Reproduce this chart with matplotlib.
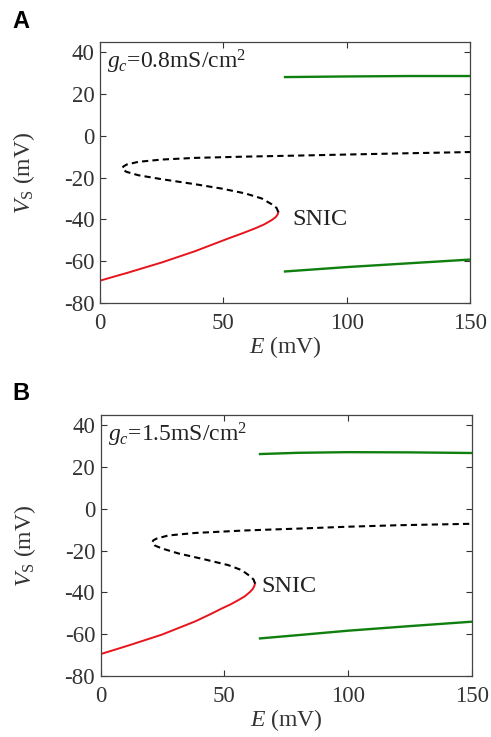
import numpy as np
import matplotlib
matplotlib.use("Agg")
import matplotlib.pyplot as plt

plt.rcParams['font.family'] = ['Liberation Serif', 'DejaVu Serif']
plt.rcParams['mathtext.fontset'] = 'custom'
plt.rcParams['mathtext.rm'] = 'Liberation Serif'
plt.rcParams['mathtext.it'] = 'Liberation Serif:italic'
plt.rcParams['axes.unicode_minus'] = False

# panel A, gc = 0.8
a_stable_E = [0, 11.5, 25.0, 38.5, 52.0, 58.0, 62.8, 66.5, 69.6, 71.3, 72.0, 72.3]
a_stable_V = [-69.3, -65.4, -60.6, -55.2, -49.1, -46.5, -44.3, -42.4, -40.3, -38.8, -37.6, -36.5]
a_unstable_E = [72.3, 71.6, 69.6, 65.5, 58.8, 49.3, 38.5, 25.0, 15.5, 10.8, 9.3, 9.1, 9.5, 10.8, 15.5, 25.0, 38.5, 58.8, 80, 100, 120, 150]
a_unstable_V = [-36.5, -34.5, -32.7, -29.9, -27.5, -25.2, -23.1, -20.7, -18.8, -17.2, -16.2, -15.3, -14.6, -13.7, -12.4, -11.3, -10.5, -9.9, -9.4, -8.9, -8.4, -7.7]
a_max_E = [75, 100, 125, 150]
a_max_V = [28.2, 28.5, 28.7, 28.7]
a_min_E = [75, 100, 125, 150]
a_min_V = [-64.9, -62.8, -61.0, -59.2]

# panel B, gc = 1.5
b_stable_E = [0, 11.2, 24.7, 38.1, 44.0, 48.9, 52.5, 55.6, 58.3, 60.4, 61.5, 62.1, 62.4]
b_stable_V = [-69.5, -65.4, -60.2, -53.9, -50.6, -47.7, -45.7, -43.7, -41.8, -39.7, -38.3, -36.9, -35.7]
b_unstable_E = [62.4, 61.8, 60.4, 57.0, 51.6, 42.2, 31.4, 24.7, 21.7, 21.0, 20.9, 21.3, 22.6, 27.3, 38.1, 58.3, 80, 100, 120, 150]
b_unstable_V = [-35.7, -33.8, -32.2, -29.3, -26.9, -24.2, -21.3, -18.9, -17.4, -16.6, -15.8, -15.0, -14.2, -12.7, -11.5, -10.3, -9.4, -8.5, -7.8, -7.1]
b_max_E = [64.4, 80, 100, 125, 150]
b_max_V = [26.3, 26.9, 27.2, 27.1, 26.8]
b_min_E = [64.4, 80, 100, 125, 150]
b_min_V = [-62.0, -60.4, -58.3, -56.1, -54.0]

panels = [
    ('A', '0.8', a_stable_E, a_stable_V, a_unstable_E, a_unstable_V, a_max_E, a_max_V, a_min_E, a_min_V,
     [100/491, 1-303/737, 370/491, 261/737], (78, -40), 21),
    ('B', '1.5', b_stable_E, b_stable_V, b_unstable_E, b_unstable_V, b_max_E, b_max_V, b_min_E, b_min_V,
     [100.7/491, 1-676/737, 371/491, 261/737], (65, -37), 393),
]

fig = plt.figure(figsize=(4.91, 7.37), dpi=100)
fig.patch.set_facecolor('white')

for letter, gc, sE, sV, uE, uV, mxE, mxV, mnE, mnV, rect, snic, ly in panels:
    ax = fig.add_axes(rect)
    ax.plot(sE, sV, color='#e8141b', lw=1.4)
    ax.plot(uE, uV, color='black', lw=1.5, linestyle=(0, (3, 2)))
    ax.plot(mxE, mxV, color='#0f7f0f', lw=1.7)
    ax.plot(mnE, mnV, color='#0f7f0f', lw=1.7)
    ax.set_xlim(0, 150)
    ax.set_ylim(-80, 45)
    ax.set_xticks([0, 50, 100, 150])
    ax.set_yticks([-80, -60, -40, -20, 0, 20, 40])
    ax.tick_params(direction='in', top=True, right=True, labelsize=16.5, length=4, width=0.8, colors='#333333')
    ax.tick_params(axis='x', pad=7)
    ax.tick_params(axis='y', pad=4)
    for sp in ax.spines.values():
        sp.set_color('#444444')
        sp.set_linewidth(0.9)
    ax.set_xlabel(r'$E$ (mV)', fontsize=17, labelpad=0, color='#333333')
    ax.set_ylabel(r'$V_{\mathrm{S}}$ (mV)', fontsize=17, labelpad=19, color='#333333')
    ax.text(3, 32.3, r'$g_c$=' + gc + r'mS/cm$^2$', fontsize=17, va='baseline', ha='left', color='#222222')
    ax.text(snic[0], snic[1], 'SNIC', fontsize=17.5, va='center', ha='left', color='#222222')
    fig.text(12/491, 1 - ly/737, letter, fontsize=17, fontweight='bold',
             family='Liberation Sans', va='center', ha='left')

fig.savefig('out.png', dpi=100)
